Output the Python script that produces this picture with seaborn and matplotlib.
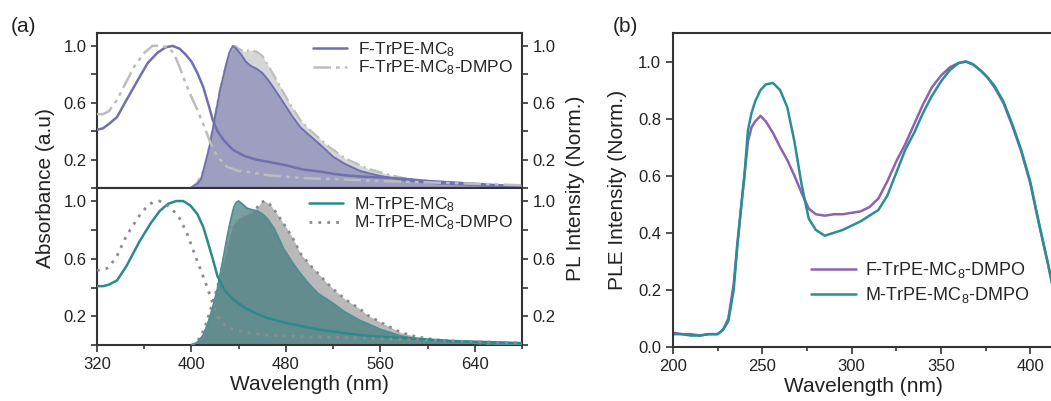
import numpy as np
import pandas as pd
import matplotlib
matplotlib.use("Agg")
import matplotlib.pyplot as plt
import seaborn as sns
from matplotlib.ticker import MultipleLocator

sns.set_style("ticks")
plt.rcParams['font.family'] = ['Liberation Sans', 'DejaVu Sans']
plt.rcParams['mathtext.fontset'] = 'custom'
plt.rcParams['mathtext.rm'] = 'Liberation Sans'
plt.rcParams['mathtext.it'] = 'Liberation Sans'

# ---------------- Panel (a) data ----------------
f_abs_wl = [320, 325, 330, 337, 345, 356, 363, 371, 378, 384, 390, 395, 400, 405, 410, 415, 418, 422, 428, 435,
            445, 455, 465, 480, 495, 510, 520, 530, 545, 560, 580, 600, 620, 640, 660, 680]
f_abs = [0.41, 0.42, 0.45, 0.50, 0.62, 0.78, 0.88, 0.95, 0.99, 1.0, 0.98, 0.94, 0.89, 0.81, 0.71, 0.57, 0.48, 0.40,
         0.33, 0.27, 0.225, 0.20, 0.185, 0.16, 0.13, 0.115, 0.10, 0.09, 0.08, 0.075, 0.065, 0.05, 0.04, 0.03, 0.02, 0.015]

fd_abs_wl = [320, 325, 330, 337, 345, 352, 360, 367, 374, 381, 386, 390, 395, 400, 405, 410, 416, 422, 430, 440,
             451, 465, 480, 495, 510, 530, 560, 600, 640, 680]
fd_abs = [0.52, 0.52, 0.54, 0.62, 0.75, 0.86, 0.95, 1.0, 1.0, 0.99, 0.93, 0.85, 0.74, 0.64, 0.55, 0.45, 0.32, 0.22,
          0.15, 0.12, 0.11, 0.09, 0.08, 0.07, 0.065, 0.06, 0.05, 0.04, 0.03, 0.02]

f_pl_wl = [399, 405, 408, 412, 416, 420, 424, 428, 432, 435, 438, 442, 446, 450, 455, 460, 465, 470, 478, 485, 492,
           500, 507, 515, 520, 530, 543, 550, 560, 577, 590, 605, 620, 634, 650, 665, 680]
f_pl = [0.0, 0.03, 0.06, 0.18, 0.32, 0.50, 0.68, 0.82, 0.95, 1.0, 0.98, 0.94, 0.89, 0.86, 0.84, 0.81, 0.76, 0.70,
        0.60, 0.51, 0.43, 0.37, 0.32, 0.26, 0.22, 0.17, 0.12, 0.105, 0.085, 0.06, 0.045, 0.035, 0.028, 0.022, 0.015,
        0.01, 0.005]

fd_pl_wl = [400, 405, 410, 414, 418, 422, 426, 430, 434, 437, 440, 445, 450, 455, 460, 465, 470, 478, 485, 492, 500,
            507, 515, 520, 530, 543, 550, 560, 577, 590, 605, 620, 640, 660, 680]
fd_pl = [0.0, 0.04, 0.12, 0.25, 0.42, 0.60, 0.76, 0.89, 0.97, 1.0, 0.98, 0.96, 0.97, 0.96, 0.93, 0.86, 0.79, 0.67,
         0.57, 0.48, 0.41, 0.36, 0.30, 0.27, 0.21, 0.16, 0.135, 0.11, 0.075, 0.055, 0.04, 0.03, 0.02, 0.012, 0.007]

m_abs_wl = [320, 325, 330, 337, 345, 356, 365, 373, 380, 387, 393, 399, 405, 410, 413, 418, 422, 428, 435, 445, 455,
            464, 480, 495, 507, 525, 543, 560, 580, 600, 620, 640, 660, 680]
m_abs = [0.41, 0.41, 0.42, 0.45, 0.55, 0.72, 0.84, 0.93, 0.98, 1.0, 1.0, 0.97, 0.91, 0.82, 0.74, 0.60, 0.48, 0.38,
         0.32, 0.26, 0.22, 0.19, 0.155, 0.13, 0.11, 0.09, 0.07, 0.06, 0.05, 0.04, 0.03, 0.025, 0.02, 0.015]

md_abs_wl = [320, 325, 330, 337, 345, 356, 363, 368, 373, 378, 384, 390, 396, 401, 407, 413, 418, 422, 428, 435, 445,
             464, 490, 520, 543, 580, 620, 660, 680]
md_abs = [0.52, 0.52, 0.54, 0.62, 0.76, 0.90, 0.97, 0.995, 1.0, 0.98, 0.94, 0.88, 0.78, 0.67, 0.54, 0.41, 0.29, 0.20,
          0.14, 0.11, 0.09, 0.07, 0.06, 0.055, 0.05, 0.04, 0.03, 0.02, 0.015]

m_pl_wl = [400, 405, 410, 414, 418, 422, 426, 430, 433, 436, 438, 440, 443, 447, 451, 456, 460, 464, 470, 478, 485,
           492, 500, 507, 520, 530, 543, 549, 560, 577, 590, 605, 620, 634, 650, 665, 680]
m_pl = [0.0, 0.02, 0.07, 0.15, 0.26, 0.39, 0.56, 0.74, 0.86, 0.96, 0.99, 1.0, 0.98, 0.95, 0.94, 0.93, 0.91, 0.88,
        0.81, 0.67, 0.58, 0.50, 0.42, 0.36, 0.29, 0.23, 0.17, 0.15, 0.11, 0.065, 0.045, 0.03, 0.022, 0.016, 0.011,
        0.007, 0.004]

md_pl_wl = [400, 404, 408, 412, 417, 422, 427, 431, 435, 440, 445, 450, 455, 459, 462, 466, 470, 475, 480, 486, 492,
            500, 507, 515, 520, 530, 543, 549, 560, 577, 590, 605, 620, 634, 650, 665, 680]
md_pl = [0.0, 0.02, 0.06, 0.14, 0.27, 0.40, 0.58, 0.72, 0.83, 0.88, 0.90, 0.92, 0.95, 0.99, 1.0, 0.98, 0.94, 0.88,
         0.82, 0.74, 0.64, 0.56, 0.50, 0.43, 0.39, 0.32, 0.25, 0.21, 0.16, 0.09, 0.06, 0.04, 0.028, 0.02, 0.013,
         0.009, 0.005]

# ---------------- Panel (b) data ----------------
ple_wl = [200, 205, 210, 215, 220, 225, 228, 231, 234, 236, 238, 240, 242, 244, 246, 249, 252, 256, 260, 264, 268,
          272, 276, 280, 285, 290, 295, 300, 305, 310, 315, 320, 325, 330, 335, 340, 345, 350, 355, 360, 364, 368,
          372, 376, 380, 385, 390, 395, 400, 405, 410, 413]
ple_f = [0.05, 0.045, 0.045, 0.04, 0.045, 0.045, 0.06, 0.10, 0.22, 0.36, 0.48, 0.60, 0.72, 0.77, 0.79, 0.81, 0.79,
         0.75, 0.70, 0.655, 0.60, 0.54, 0.485, 0.465, 0.46, 0.465, 0.465, 0.47, 0.475, 0.49, 0.52, 0.58, 0.65, 0.71,
         0.78, 0.85, 0.91, 0.95, 0.98, 0.995, 1.0, 0.99, 0.97, 0.945, 0.91, 0.855, 0.775, 0.685, 0.575, 0.43, 0.29,
         0.20]
ple_m = [0.045, 0.045, 0.04, 0.04, 0.045, 0.045, 0.06, 0.09, 0.20, 0.35, 0.48, 0.60, 0.76, 0.82, 0.86, 0.90, 0.92,
         0.925, 0.90, 0.84, 0.72, 0.57, 0.45, 0.41, 0.39, 0.40, 0.41, 0.425, 0.44, 0.46, 0.48, 0.53, 0.61, 0.69,
         0.75, 0.82, 0.88, 0.93, 0.97, 0.995, 1.0, 0.99, 0.97, 0.945, 0.915, 0.86, 0.78, 0.69, 0.58, 0.43, 0.29,
         0.20]

lab_f = "F-TrPE-MC$_\\mathregular{8}$"
lab_fd = "F-TrPE-MC$_\\mathregular{8}$-DMPO"
lab_m = "M-TrPE-MC$_\\mathregular{8}$"
lab_md = "M-TrPE-MC$_\\mathregular{8}$-DMPO"

# ---------------- Colours ----------------
c_f = '#7070b0'
c_fd = '#bdbdbd'
c_m = '#2b8a8c'
c_md = '#8c8c8c'
c_pf = '#8e62b2'
c_pm = '#2a8e96'
spine_c = '#333333'

fig = plt.figure(figsize=(10.51, 4.01), dpi=100)

ax_t = fig.add_axes([0.0923, 0.531, 0.4044, 0.3865])
ax_b = fig.add_axes([0.0923, 0.139, 0.4044, 0.392])
ax_p = fig.add_axes([0.6403, 0.1347, 0.3620, 0.783])

tick_fs = 12
lab_fs = 15

# ---- top panel (F) ----
ax_t.fill_between(fd_pl_wl, fd_pl, color='#d6d6d6', lw=0, zorder=1)
ax_t.fill_between(f_pl_wl, f_pl, color=c_f, alpha=0.55, lw=0, zorder=2)
sns.lineplot(x=fd_pl_wl, y=fd_pl, ax=ax_t, color=c_fd, lw=1.6, linestyle=(0, (6, 2, 1, 2)), zorder=3,
             sort=False, estimator=None)
sns.lineplot(x=f_pl_wl, y=f_pl, ax=ax_t, color=c_f, lw=1.4, zorder=4, sort=False, estimator=None)
sns.lineplot(x=f_abs_wl, y=f_abs, ax=ax_t, color=c_f, lw=1.8, zorder=5, label=lab_f, sort=False, estimator=None)
sns.lineplot(x=fd_abs_wl, y=fd_abs, ax=ax_t, color=c_fd, lw=1.8, linestyle=(0, (7, 2, 1.5, 2, 1.5, 2)), zorder=5,
             label=lab_fd, sort=False, estimator=None)

# ---- bottom panel (M) ----
ax_b.fill_between(md_pl_wl, md_pl, color='#b9b9b9', lw=0, zorder=1)
ax_b.fill_between(m_pl_wl, m_pl, color='#3d7a7d', alpha=0.7, lw=0, zorder=2)
sns.lineplot(x=md_pl_wl, y=md_pl, ax=ax_b, color=c_md, lw=2.0, linestyle=(0, (1, 2)), zorder=3,
             sort=False, estimator=None)
sns.lineplot(x=m_pl_wl, y=m_pl, ax=ax_b, color='#4f8f92', lw=1.4, zorder=4, sort=False, estimator=None)
sns.lineplot(x=m_abs_wl, y=m_abs, ax=ax_b, color=c_m, lw=1.8, zorder=5, label=lab_m, sort=False, estimator=None)
sns.lineplot(x=md_abs_wl, y=md_abs, ax=ax_b, color=c_md, lw=2.0, linestyle=(0, (1, 2.2)), zorder=5,
             label=lab_md, sort=False, estimator=None)

for ax in (ax_t, ax_b):
    ax.set_xlim(320, 680)
    ax.set_ylim(0, 1.09)
    ax.set_yticks([0.2, 0.6, 1.0])
    ax.yaxis.set_minor_locator(MultipleLocator(0.2))
    ax.xaxis.set_minor_locator(MultipleLocator(40))
    ax.set_xticks([320, 400, 480, 560, 640])
    ax.tick_params(axis='y', which='both', direction='out', left=True, right=True, labelright=True,
                   labelsize=tick_fs, colors=spine_c, labelcolor='#222222')
    ax.tick_params(axis='y', which='major', length=4, width=1.2)
    ax.tick_params(axis='y', which='minor', length=4, width=1.2)
    ax.set_ylabel('')
    ax.set_xlabel('')
    for s in ax.spines.values():
        s.set_visible(True)
        s.set_color(spine_c)
        s.set_linewidth(1.5)
    ax.legend(loc='upper right', frameon=False, fontsize=12.5, handlelength=2.0, handletextpad=0.6,
              labelspacing=0.0, borderaxespad=0.0, bbox_to_anchor=(0.995, 1.0))

ax_t.tick_params(axis='x', which='both', bottom=False, labelbottom=False)
ax_b.tick_params(axis='x', which='both', direction='out', bottom=True, labelsize=tick_fs, colors=spine_c,
                 labelcolor='#222222', width=1.2)
ax_b.tick_params(axis='x', which='major', length=5)
ax_b.tick_params(axis='x', which='minor', length=3)
ax_b.set_xlabel('Wavelength (nm)', fontsize=lab_fs, color='#222222', labelpad=2)

fig.text(0.043, 0.53, 'Absorbance (a.u)', rotation=90, ha='center', va='center', fontsize=lab_fs, color='#222222')
fig.text(0.548, 0.53, 'PL Intensity (Norm.)', rotation=90, ha='center', va='center', fontsize=lab_fs,
         color='#222222')
fig.text(0.010, 0.935, '(a)', fontsize=15, color='#222222', ha='left', va='center')
fig.text(0.583, 0.935, '(b)', fontsize=15, color='#222222', ha='left', va='center')

# ---- panel (b) ----
df_b = pd.DataFrame({'wl': ple_wl * 2,
                     'val': ple_f + ple_m,
                     'series': [lab_fd] * len(ple_wl) + [lab_md] * len(ple_wl)})
sns.lineplot(data=df_b, x='wl', y='val', hue='series', palette=[c_pf, c_pm], ax=ax_p, lw=1.8,
             sort=False, estimator=None)
ax_p.set_xlim(200, 413)
ax_p.set_ylim(0, 1.1)
ax_p.set_xticks([200, 250, 300, 350, 400])
ax_p.xaxis.set_minor_locator(MultipleLocator(25))
ax_p.set_yticks([0.0, 0.2, 0.4, 0.6, 0.8, 1.0])
ax_p.set_yticklabels(['0.0', '0.2', '0.4', '0.6', '0.8', '1.0'])
ax_p.tick_params(axis='both', which='both', direction='out', labelsize=tick_fs, colors=spine_c,
                 labelcolor='#222222', width=1.2)
ax_p.tick_params(axis='both', which='major', length=5)
ax_p.tick_params(axis='x', which='minor', length=3)
for k, s in ax_p.spines.items():
    s.set_visible(k != 'right')
    s.set_color(spine_c)
    s.set_linewidth(1.5)
ax_p.set_xlabel('Wavelength (nm)', fontsize=lab_fs, color='#222222', labelpad=2)
ax_p.set_ylabel('PLE Intensity (Norm.)', fontsize=lab_fs, color='#222222', labelpad=8)
ax_p.legend(loc='center left', bbox_to_anchor=(0.32, 0.205), frameon=False, fontsize=13, handlelength=2.5,
            handletextpad=0.5, labelspacing=0.25)

fig.savefig('out.png', dpi=100)
